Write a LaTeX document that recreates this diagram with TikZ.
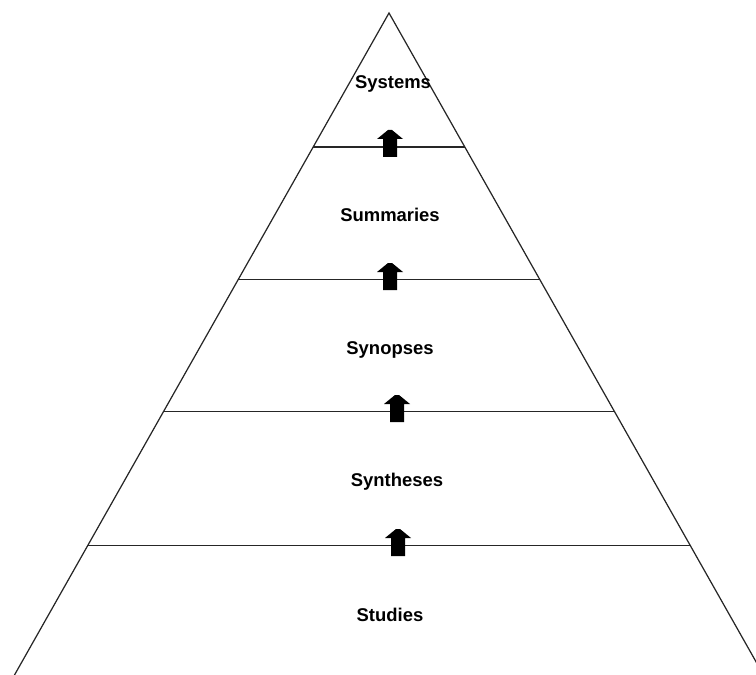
\documentclass[tikz,border=0pt]{standalone}
\usepackage{fontspec}
\setmainfont{Liberation Sans}
\usetikzlibrary{calc}

\tikzset{
  level/.style={font=\fontsize{10.5}{12}\selectfont\bfseries, align=center},
  levelline/.style={line width=0.7pt, black!85},
  uparrow/.pic={\fill[black] (-7,10) -- (-7,-8) -- (-13,-8) -- (-2,-17) -- (2,-17) -- (13,-8) -- (7,-8) -- (7,10) -- cycle;}
}

\begin{document}
\begin{tikzpicture}[x=0.02cm, y=-0.02cm]
  \useasboundingbox (0,0) rectangle (756,675);
  \clip (0,0) rectangle (756,675);

  % pyramid outline
  \coordinate (apex) at (389,13);
  \coordinate (baseL) at (6,690);
  \coordinate (baseR) at (772,690);
  \draw[levelline] (baseL) -- (apex) -- (baseR);

  % level borders
  \foreach \t/\n in {0.198/1, 0.394/2, 0.589/3, 0.787/4} {
    \coordinate (l\n) at ($(apex)!\t!(baseL)$);
    \coordinate (r\n) at ($(apex)!\t!(baseR)$);
    \draw[levelline] (l\n) -- (r\n);
  }

  % level names
  \node[level] (systems)   at (393,84)  {Systems};
  \node[level] (summaries) at (390,215) {Summaries};
  \node[level] (synopses)  at (390,350) {Synopses};
  \node[level] (syntheses) at (397,482) {Syntheses};
  \node[level] (studies)   at (390,615) {Studies};

  % arrows between levels
  \pic at (390,147) {uparrow};
  \pic at (390,280) {uparrow};
  \pic at (397,412) {uparrow};
  \pic at (398,546) {uparrow};
\end{tikzpicture}
\end{document}
